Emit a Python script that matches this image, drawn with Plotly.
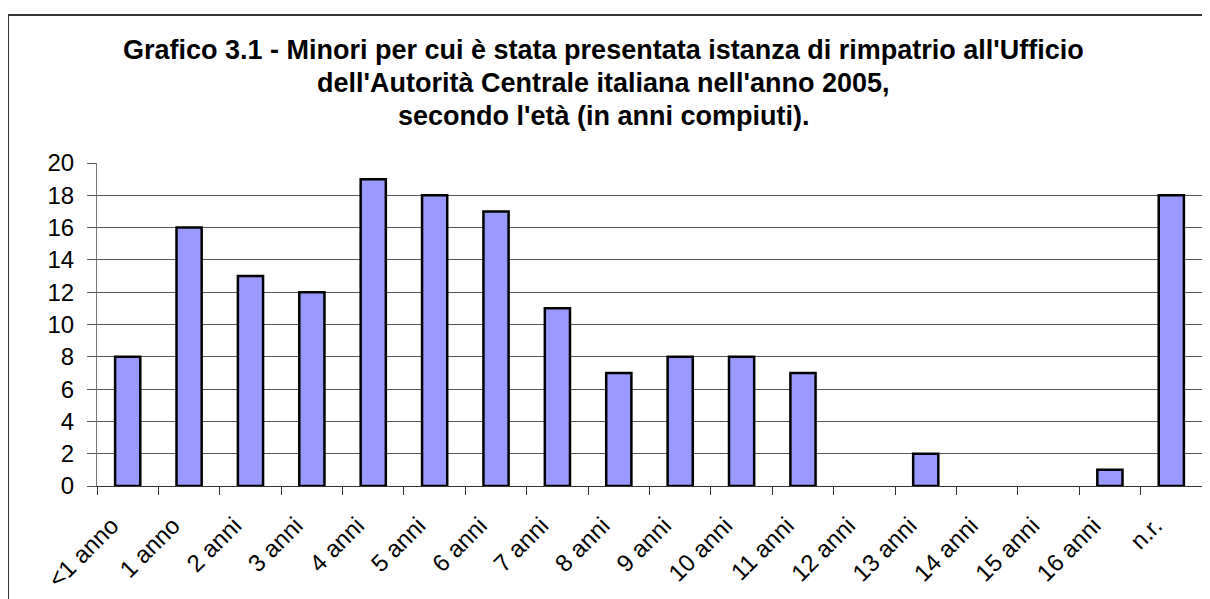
import plotly.graph_objects as go

categories = ["<1 anno", "1 anno", "2 anni", "3 anni", "4 anni", "5 anni", "6 anni",
              "7 anni", "8 anni", "9 anni", "10 anni", "11 anni", "12 anni", "13 anni",
              "14 anni", "15 anni", "16 anni", "n.r."]
values = [8, 16, 13, 12, 19, 18, 17, 11, 7, 8, 8, 7, 0, 2, 0, 0, 1, 18]
y_ticks = list(range(0, 21, 2))
title_lines = [
    "Grafico 3.1 - Minori per cui è stata presentata istanza di rimpatrio all'Ufficio",
    "dell'Autorità Centrale italiana nell'anno 2005,",
    "secondo l'età (in anni compiuti).",
]

OFF = 8  # page body margin
W, H = 1210, 599
# target page-pixel positions of the plot area
PL, PR, PT, PB = 97, 1202, 163, 486
L = PL - OFF
T = PT - OFF
R = W - (PR - OFF)
B = H - (PB - OFF)
pw, ph = PR - PL, PB - PT

def px_x(x):
    return (x - PL) / pw

def px_y(y):
    return (PB - y) / ph

FONT = "Arial, Liberation Sans, sans-serif"

fig = go.Figure()
fig.add_trace(go.Bar(
    x=categories, y=values, width=0.41,
    marker=dict(color="#9999FF",
                line=dict(color="#000000", width=[2.5 if v > 0 else 0 for v in values])),
))

ticktext = [c.replace("<", "&lt;") for c in categories]

fig.update_layout(
    width=W, height=H,
    margin=dict(l=L, r=R, t=T, b=B, autoexpand=False),
    paper_bgcolor="white", plot_bgcolor="white",
    showlegend=False,
    font=dict(family=FONT, color="black"),
    xaxis=dict(
        type="category", tickvals=categories, ticktext=ticktext,
        tickangle=-45, tickson="boundaries", ticks="outside", ticklen=8,
        tickcolor="#333", showline=True, linecolor="#333", linewidth=1,
        showgrid=False, tickfont=dict(size=24, family=FONT, color="black"),
        range=[-0.5, len(categories) - 0.5], automargin=False,
        ticklabelstandoff=15, ticklabelshift=-16,
    ),
    yaxis=dict(
        range=[0, 20], tickvals=y_ticks, ticks="outside", ticklen=9,
        tickcolor="#555", showline=True, linecolor="#777", linewidth=1,
        showgrid=True, gridcolor="#555", gridwidth=1, zeroline=False,
        tickfont=dict(size=24, family=FONT, color="black"), ticklabelstandoff=8,
        automargin=False,
    ),
    shapes=[dict(
        type="rect", xref="paper", yref="paper",
        x0=px_x(8), x1=px_x(1240), y0=px_y(660), y1=px_y(15),
        line=dict(color="#333", width=2), fillcolor="rgba(0,0,0,0)", layer="below",
    )],
)

title_y = [50, 83, 116]
for line, yy in zip(title_lines, title_y):
    fig.add_annotation(
        text="<b>" + line + "</b>", xref="paper", yref="paper",
        x=px_x(603), y=px_y(yy), xanchor="center", yanchor="middle",
        showarrow=False, font=dict(size=27, family=FONT, color="black"),
    )

fig.write_html("out.html")
